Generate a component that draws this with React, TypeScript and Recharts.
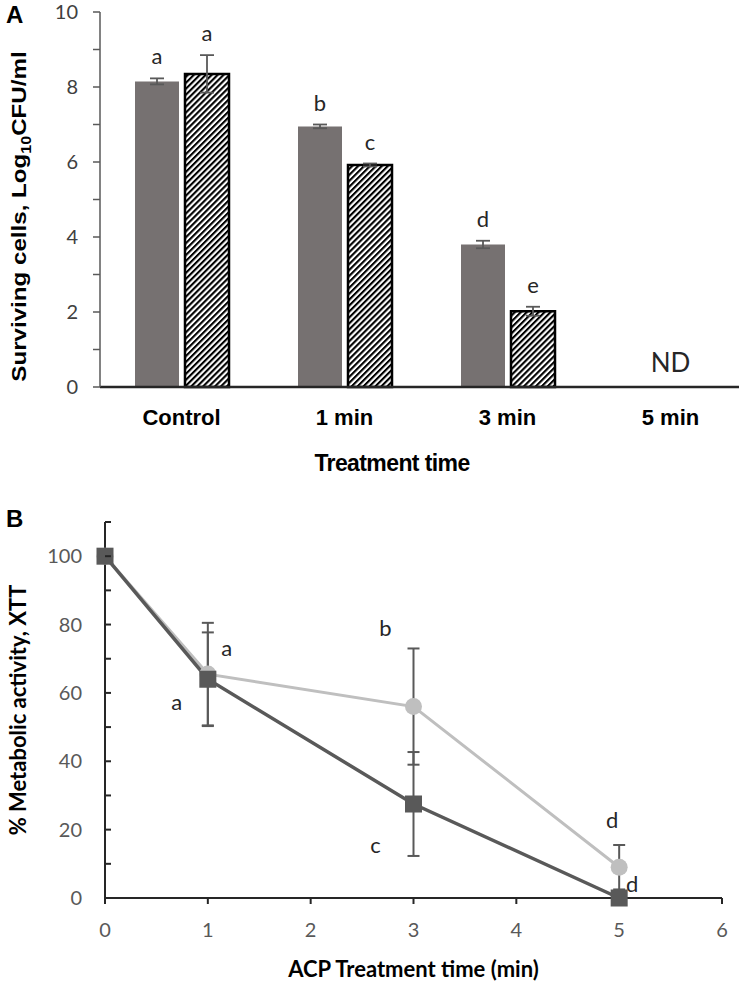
import React from 'react';
import {
  BarChart, Bar, LineChart, Line, XAxis, YAxis, ErrorBar, LabelList, ReferenceDot,
} from 'recharts';

// panel A - surviving cells
const groups = ['Control', '1 min', '3 min', '5 min'];
const solidMeans = [8.15, 6.95, 3.8, null];
const solidErrs = [0.08, 0.05, 0.1, null];
const solidLetters = ['a', 'b', 'd', ''];
const hatchMeans = [8.35, 5.92, 2.02, null];
const hatchErrs = [0.5, 0.04, 0.12, null];
const hatchLetters = ['a', 'c', 'e', ''];
const survivalTicks = [0, 1, 2, 3, 4, 5, 6, 7, 8, 9, 10];

// panel B - metabolic activity
const minutes = [0, 1, 3, 5];
const lightMeans = [100, 65.5, 56, 9];
const lightErrs = [0, 15, 17, 6.5];
const lightLetters = ['', 'a', 'b', 'd'];
const darkMeans = [100, 64, 27.5, 0];
const darkErrs = [0, 13.7, 15.2, 0];
const darkLetters = ['', 'a', 'c', 'd'];
const activityTicks = [0, 10, 20, 30, 40, 50, 60, 70, 80, 90, 100, 110];
const minuteTicks = [0, 1, 2, 3, 4, 5, 6];

// letter placement next to the points (px from marker centre)
const lightLetterPos = [[0, 0], [19, -26], [-28, -78], [-7, -47]];
const darkLetterPos = [[0, 0], [-31, 23], [-38, 41], [13, -14]];

const survivalData = groups.map((g, i) => ({
  group: g,
  solid: solidMeans[i],
  solidErr: solidErrs[i],
  solidLetter: solidLetters[i],
  hatch: hatchMeans[i],
  hatchErr: hatchErrs[i],
  hatchLetter: hatchLetters[i],
}));

const activityData = minutes.map((t, i) => ({
  t,
  light: lightMeans[i],
  lightErr: lightErrs[i],
  lightLetter: lightLetters[i],
  dark: darkMeans[i],
  darkErr: darkErrs[i],
  darkLetter: darkLetters[i],
}));

const CALIBRI = 'Lato, "Open Sans", sans-serif';
const ARIAL = '"Liberation Sans", Arial, sans-serif';
const B_TICK_MARGIN = 23;

const barLetter = (means: (number | null)[], errs: (number | null)[]) => (p: any) => {
  const vb = p.viewBox ?? p;
  const i = p.index;
  const m = means[i];
  if (!p.value || m == null) return null;
  const top = Math.min(vb.y, vb.y + vb.height);
  const perUnit = Math.abs(vb.height) / m;
  const errTop = top - (errs[i] ?? 0) * perUnit;
  return (
    <text x={vb.x + vb.width / 2} y={errTop - 14} textAnchor="middle" fontFamily={CALIBRI} fontSize={22} fill="#262626">
      {p.value}
    </text>
  );
};

const lineLetter = (pos: number[][]) => (p: any) => {
  const vb = p.viewBox ?? p;
  const x = vb.x ?? p.x;
  const y = vb.y ?? p.y;
  if (!p.value) return null;
  const [dx, dy] = pos[p.index];
  return (
    <text x={x + dx} y={y + dy} dy="0.35em" textAnchor="middle" fontFamily={CALIBRI} fontSize={22} fill="#262626">
      {p.value}
    </text>
  );
};

const ActivityTick = (p: any) => {
  const v = p.payload.value;
  const axisX = p.x + B_TICK_MARGIN;
  return (
    <g>
      <line x1={axisX} x2={axisX + 6} y1={p.y} y2={p.y} stroke="#262626" strokeWidth={2} />
      {v % 20 === 0 && v <= 100 && (
        <text x={p.x} y={p.y} dy="0.36em" textAnchor="end" fontFamily={CALIBRI} fontSize={20} fill="#595959">
          {v}
        </text>
      )}
    </g>
  );
};

const SquareDot = (p: any) => (
  <rect key={`sq-${p.index}`} x={p.cx - 8.5} y={p.cy - 8.5} width={17} height={17} fill="#595959" />
);

const SurvivalYTitle = (p: any) => {
  const vb = p.viewBox;
  const cx = vb.x + 18;
  const cy = vb.y + vb.height / 2 + 17;
  return (
    <text transform={`translate(${cx},${cy}) rotate(-90) scale(1.15,1)`} textAnchor="middle" dy="0.36em"
      fontFamily={ARIAL} fontWeight="bold" fontSize={21} fill="#000">
      Surviving cells, Log<tspan fontSize={14} dy={5}>10</tspan><tspan dy={-5}>CFU/ml</tspan>
    </text>
  );
};

const SurvivalXTitle = (p: any) => {
  const vb = p.viewBox;
  return (
    <text x={vb.x + vb.width / 2 - 34} y={vb.y + 84} textAnchor="middle" fontFamily={ARIAL} fontWeight="bold"
      fontSize={23} letterSpacing={-0.6} fill="#000">
      Treatment time
    </text>
  );
};

const ActivityYTitle = (p: any) => {
  const vb = p.viewBox;
  const cx = vb.x + 18;
  const cy = vb.y + vb.height / 2;
  return (
    <text transform={`translate(${cx},${cy}) rotate(-90)`} textAnchor="middle" dy="0.36em"
      fontFamily={CALIBRI} fontWeight="bold" fontSize={22} fill="#000">
      % Metabolic activity, XTT
    </text>
  );
};

const ActivityXTitle = (p: any) => {
  const vb = p.viewBox;
  return (
    <text x={vb.x + vb.width / 2} y={vb.y + 79} textAnchor="middle" fontFamily={CALIBRI} fontWeight="bold"
      fontSize={22} fill="#000">
      ACP Treatment time (min)
    </text>
  );
};

export default function App() {
  return (
    <div style={{ position: 'absolute', left: 0, top: 0, width: 739, height: 989, overflow: 'hidden', background: '#fff' }}>
      <div style={{ position: 'absolute', left: 6, top: 1, fontFamily: ARIAL, fontWeight: 'bold', fontSize: 24 }}>A</div>
      <div style={{ position: 'absolute', left: 6, top: 505, fontFamily: ARIAL, fontWeight: 'bold', fontSize: 24 }}>B</div>

      <div style={{ position: 'absolute', left: 0, top: 0 }}>
        <BarChart width={760} height={490} data={survivalData} barSize={44} barGap={6}
          margin={{ top: 12, right: 8, left: 0, bottom: 0 }}>
          <defs>
            <pattern id="hatch" width="4.2" height="4.2" patternUnits="userSpaceOnUse" patternTransform="rotate(45)">
              <rect width="4.2" height="4.2" fill="#fff" />
              <rect width="2.1" height="4.2" fill="#000" />
            </pattern>
          </defs>
          <XAxis dataKey="group" height={103} tickLine={false} tickSize={0} tickMargin={22}
            axisLine={{ stroke: '#262626', strokeWidth: 2.5 }}
            tick={{ fontFamily: ARIAL, fontWeight: 'bold', fontSize: 22, fill: '#000' }}
            label={<SurvivalXTitle />} />
          <YAxis width={100} domain={[0, 10]} ticks={survivalTicks} interval={0} tickSize={7} tickMargin={15}
            tickFormatter={(v: number) => (v % 2 === 0 ? String(v) : '')}
            axisLine={{ stroke: '#595959', strokeWidth: 1.5 }} tickLine={{ stroke: '#595959', strokeWidth: 1.5 }}
            tick={{ fontFamily: CALIBRI, fontSize: 20, fill: '#404040' }}
            label={<SurvivalYTitle />} />
          <Bar dataKey="solid" fill="#767171" isAnimationActive={false}>
            <ErrorBar dataKey="solidErr" width={7} stroke="#595959" strokeWidth={1.8} isAnimationActive={false} />
            <LabelList dataKey="solidLetter" content={barLetter(solidMeans, solidErrs)} />
          </Bar>
          <Bar dataKey="hatch" fill="url(#hatch)" stroke="#000" strokeWidth={2.5} isAnimationActive={false}>
            <ErrorBar dataKey="hatchErr" width={7} stroke="#595959" strokeWidth={1.8} isAnimationActive={false} />
            <LabelList dataKey="hatchLetter" content={barLetter(hatchMeans, hatchErrs)} />
          </Bar>
          <ReferenceDot x="5 min" y={0.64} r={1} fill="none" stroke="none"
            label={{ value: 'ND', position: 'center', fontFamily: CALIBRI, fontSize: 26, fill: '#262626' }} />
        </BarChart>
      </div>

      <div style={{ position: 'absolute', left: 0, top: 500 }}>
        <LineChart width={739} height={489} data={activityData} margin={{ top: 22, right: 17, left: 0, bottom: 0 }}>
          <XAxis dataKey="t" type="number" domain={[0, 6]} ticks={minuteTicks} interval={0} height={91}
            tickSize={6} tickMargin={19}
            axisLine={{ stroke: '#262626', strokeWidth: 2 }} tickLine={{ stroke: '#262626', strokeWidth: 2 }}
            tick={{ fontFamily: CALIBRI, fontSize: 20, fill: '#595959' }}
            label={<ActivityXTitle />} />
          <YAxis width={105} domain={[0, 110]} ticks={activityTicks} interval={0} tickSize={0}
            tickMargin={B_TICK_MARGIN} tickLine={false}
            axisLine={{ stroke: '#262626', strokeWidth: 2 }}
            tick={<ActivityTick />}
            label={<ActivityYTitle />} />
          <Line dataKey="light" stroke="#BFBFBF" strokeWidth={3} isAnimationActive={false}
            dot={{ r: 8.5, fill: '#BFBFBF', stroke: 'none' }} activeDot={false}>
            <ErrorBar dataKey="lightErr" width={6} stroke="#595959" strokeWidth={2} isAnimationActive={false} />
            <LabelList dataKey="lightLetter" content={lineLetter(lightLetterPos)} />
          </Line>
          <Line dataKey="dark" stroke="#595959" strokeWidth={3.5} isAnimationActive={false}
            dot={SquareDot} activeDot={false}>
            <ErrorBar dataKey="darkErr" width={6} stroke="#595959" strokeWidth={2} isAnimationActive={false} />
            <LabelList dataKey="darkLetter" content={lineLetter(darkLetterPos)} />
          </Line>
        </LineChart>
      </div>
    </div>
  );
}
